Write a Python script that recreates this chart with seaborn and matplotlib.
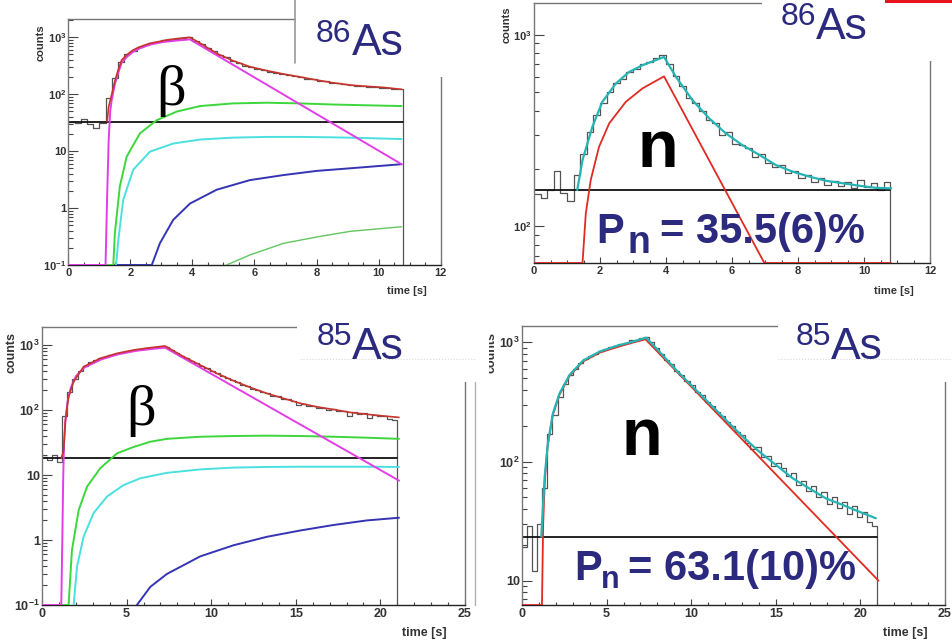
import numpy as np
import seaborn as sns
import matplotlib.pyplot as plt
from matplotlib.patches import Rectangle
from matplotlib.lines import Line2D
from matplotlib.ticker import LogLocator, MultipleLocator, FuncFormatter, NullFormatter

# ---------------- 86As, beta activity (top left) ----------------
as86b_bin = 0.2
as86b_hist = [33, 31, 37, 30, 26, 31,
              85,
              195, 370, 505, 585, 670, 735, 800, 825, 885, 895, 940, 955, 1010,
              870, 770, 640, 565, 490, 445, 390, 360, 318, 305, 280, 268, 248, 240,
              226, 220, 206, 200, 188, 184, 173, 170, 160, 158, 149, 147, 139, 140,
              133, 135, 129, 130, 124, 126]
as86b_bkg = 33
as86b_tot_t = [1.25, 1.3, 1.4, 1.5, 1.6, 1.72, 1.9, 2.09, 2.3, 2.63, 3.0, 3.17, 3.5, 3.92,
               4.3, 4.78, 5.3, 5.85, 6.4, 6.93, 7.5, 8.0, 8.5, 9.08, 9.6, 10.15, 10.74]
as86b_tot_v = [33, 60, 100, 170, 260, 400, 500, 600, 680, 785, 860, 900, 950, 1000,
               760, 523, 390, 305, 260, 227, 200, 178, 160, 145, 138, 132, 122]
as86b_par_t = [0, 1.2, 1.25, 1.3, 1.35, 1.4, 1.5, 1.6, 1.72, 1.9, 2.09, 2.3, 2.63, 3.0, 3.5, 3.92, 10.74]
as86b_par_v = [0.1, 0.1, 1.5, 15, 50, 80, 150, 230, 360, 460, 560, 640, 745, 820, 880, 920, 5.9]
as86b_d1_t = [0, 1.45, 1.5, 1.66, 1.88, 2.31, 2.85, 3.49, 4.24, 5.3, 6.4, 7.5, 8.54, 9.6, 10.74]
as86b_d1_v = [0.1, 0.1, 0.36, 2.4, 8, 20.6, 35, 49.5, 62, 69, 71, 69, 66, 64, 62]
as86b_d2_t = [1.54, 1.61, 1.77, 2.09, 2.63, 3.38, 4.24, 5.3, 6.4, 7.5, 8.54, 9.6, 10.74]
as86b_d2_v = [0.1, 0.27, 1.4, 4.7, 9.8, 13.6, 16, 17.3, 17.8, 17.8, 17.5, 17, 16.3]
as86b_d3_t = [0, 2.69, 2.95, 3.38, 3.92, 4.78, 5.85, 6.93, 8.0, 9.08, 10.74]
as86b_d3_v = [0.1, 0.1, 0.24, 0.62, 1.2, 2.1, 3.1, 3.8, 4.5, 5.0, 5.9]
as86b_d4_t = [5.1, 5.85, 6.93, 8.0, 9.08, 10.74]
as86b_d4_v = [0.1, 0.15, 0.24, 0.31, 0.39, 0.47]

# ---------------- 86As, neutron activity (top right) ----------------
as86n_bin = 0.2
as86n_hist = [148, 140, 155, 195, 150, 135,
              185,
              240, 310, 380, 440, 500, 560, 590, 640, 660, 700, 720, 760, 780,
              700, 610, 540, 470, 440, 400, 360, 345, 300, 310, 270, 265, 255, 230,
              240, 215, 205, 210, 190, 195, 180, 185, 170, 178, 165, 172, 162, 170,
              158, 175, 160, 168, 155, 170]
as86n_bkg = 155
as86n_fit_t = [1.31, 1.47, 1.77, 2.07, 2.48, 2.88, 3.29, 3.69, 3.94, 4.3, 4.8, 5.31, 5.81,
               6.32, 6.83, 7.33, 7.84, 8.34, 8.85, 9.35, 9.86, 10.36, 10.82]
as86n_fit_v = [155, 222, 331, 446, 556, 639, 693, 736, 765, 603, 456, 366, 306,
               265, 236, 209, 193, 182, 173, 168, 163, 159, 158]
as86n_n_t = [0, 1.47, 1.57, 1.72, 1.97, 2.28, 2.78, 3.29, 3.94, 6.98, 10.82]
as86n_n_v = [64.5, 64.5, 117, 175, 260, 345, 446, 525, 606, 64.5, 64.5]

# ---------------- 85As, beta activity (bottom left) ----------------
as85b_bin = 0.3
as85b_hist = [19, 17, 20, 16,
              80,
              190, 300, 400, 470, 545, 585, 625, 655, 700, 730, 765, 785, 820, 845,
              865, 895, 905, 935, 950,
              940,
              850, 765, 688, 632, 572, 528, 476, 442, 398, 368, 332, 313, 286, 270,
              246, 236, 213, 206, 187, 181, 166, 162, 150, 148, 136, 118, 124, 117,
              115, 106, 109, 101, 104, 96, 97, 82, 92, 86, 89, 76, 85, 80, 82, 74, 70]
as85b_bkg = 18
as85b_tot_t = [1.14, 1.28, 1.38, 1.57, 1.87, 2.46, 3.44, 4.43, 5.41, 6.4, 7.28, 8.37, 9.35,
               10.33, 11.32, 12.3, 13.29, 14.27, 15.26, 16.24, 17.22, 18.2, 19.19, 20.18, 21.1]
as85b_tot_v = [18, 24, 70, 160, 272, 464, 623, 744, 838, 910, 965, 662, 492,
               366, 282, 223, 180, 151, 127, 112, 102, 92, 86, 81, 77]
as85b_par_t = [0, 1.14, 1.2, 1.25, 1.3, 1.38, 1.5, 1.7, 2.0, 2.5, 3.5, 4.5, 5.5, 6.5, 7.28, 21.1]
as85b_par_v = [0.1, 0.1, 1, 8, 30, 65, 130, 220, 330, 450, 600, 720, 810, 870, 910, 8.2]
as85b_d1_t = [0, 1.57, 1.77, 2.17, 2.66, 3.44, 4.43, 5.41, 6.4, 7.38, 9.35, 11.32, 13.29,
              15.26, 17.22, 19.19, 21.1]
as85b_d1_v = [0.1, 0.1, 0.7, 2.9, 6.6, 12.7, 21.5, 27, 32.5, 36, 38.8, 39.8, 40.3,
              39.8, 38.8, 37.5, 36]
as85b_d2_t = [1.87, 2.07, 2.46, 3.05, 3.84, 4.82, 5.81, 7.38, 9.35, 11.32, 13.29, 15.26, 17.22, 19.19, 21.1]
as85b_d2_v = [0.1, 0.39, 1.13, 2.6, 4.66, 7.0, 8.9, 10.8, 12.2, 13.0, 13.3, 13.4, 13.4, 13.4, 13.3]
as85b_d3_t = [5.61, 6.4, 7.38, 9.35, 11.32, 13.29, 15.26, 17.22, 19.19, 21.1]
as85b_d3_v = [0.1, 0.19, 0.3, 0.56, 0.83, 1.12, 1.4, 1.7, 2.0, 2.2]

# ---------------- 85As, neutron activity (bottom right) ----------------
as85n_bin = 0.3
as85n_hist = [19, 29, 12, 30,
              60,
              170, 245, 350, 450, 530, 600, 665, 720, 770, 805, 845, 875, 905, 930,
              960, 990, 1050, 1040, 1080,
              1110,
              1000, 890, 800, 715, 655, 580, 530, 475, 435, 385, 358, 318, 292, 262,
              243, 215, 200, 176, 168, 142, 128, 133, 110, 112, 92, 98, 88, 76,
              80, 64, 68, 57, 62, 50, 55, 44, 50, 41, 46, 36, 42, 34, 38, 31, 29]
as85n_bkg = 23.4
as85n_fit_t = [1.14, 1.34, 1.53, 1.83, 2.22, 2.81, 3.6, 4.58, 5.57, 6.55, 7.34, 8.12, 9.11,
               10.09, 11.07, 12.05, 13.04, 14.02, 15.01, 15.99, 16.97, 17.96, 18.94, 19.93, 20.91]
as85n_fit_v = [23.4, 74.8, 142, 254, 373, 532, 701, 835, 932, 1013, 1094, 835, 586,
               424, 308, 223, 162, 121, 93.6, 72.4, 59.6, 49.0, 43.3, 37.9, 33.4]
as85n_n_t = [0, 1.18, 1.25, 1.35, 1.5, 1.8, 2.2, 2.8, 3.6, 4.6, 5.6, 6.5, 7.3, 21.07]
as85n_n_v = [6.25, 6.25, 30, 70, 130, 240, 360, 520, 690, 820, 910, 990, 1060, 10]

# ---------------- style ----------------
sns.set_theme(style="ticks")
plt.rcParams['font.family'] = ['Liberation Sans', 'DejaVu Sans']
plt.rcParams['font.weight'] = 'bold'
plt.rcParams['mathtext.fontset'] = 'custom'
plt.rcParams['mathtext.rm'] = 'Liberation Sans'
plt.rcParams['mathtext.bf'] = 'Liberation Sans:bold'
plt.rcParams['mathtext.default'] = 'bf'

NAVY = '#2b2a7e'
HIST = '#555555'
W, H = 953, 640

fig = plt.figure(figsize=(W / 100, H / 100), dpi=100)
fig.patch.set_facecolor('white')


def px_rect(l, t, r, b):
    return [l / W, 1 - b / H, (r - l) / W, (b - t) / H]


def ftext(x, y, s, **kw):
    return fig.text(x / W, 1 - y / H, s, zorder=12, **kw)


def fline(x1, y1, x2, y2, **kw):
    fig.add_artist(Line2D([x1 / W, x2 / W], [1 - y1 / H, 1 - y2 / H],
                          transform=fig.transFigure, zorder=11, **kw))


def white_box(l, t, r, b, color='white', z=10):
    fig.add_artist(Rectangle((l / W, 1 - b / H), (r - l) / W, (b - t) / H,
                             transform=fig.transFigure, facecolor=color,
                             edgecolor='none', zorder=z))


def root_log(v, pos):
    e = int(round(np.log10(v)))
    if e == 0:
        return '1'
    if e == 1:
        return '10'
    return r'$10^{%d}$' % e


def panel(rect, hist, bin_w, bkg, curves, xmax, xmaj, xmin, ylim, lsize):
    ax = fig.add_axes(rect)
    edges = bin_w * np.arange(len(hist) + 1)
    hx = np.append(edges, edges[-1])
    hy = np.append(np.append(hist, hist[-1]), 0)
    sns.lineplot(x=hx, y=hy, ax=ax, color=HIST, lw=0.9, estimator=None, sort=False,
                 drawstyle='steps-post')
    sns.lineplot(x=[0, edges[-1]], y=[bkg, bkg], ax=ax, color='#111111', lw=1.3,
                 estimator=None, sort=False)
    for t, v, c, lw in curves:
        sns.lineplot(x=t, y=v, ax=ax, color=c, lw=lw, estimator=None, sort=False, zorder=3)
    ax.set_yscale('log', nonpositive='clip')
    ax.set_xlim(0, xmax)
    ax.set_ylim(*ylim)
    ax.set_xlabel('')
    ax.set_ylabel('')
    ax.xaxis.set_major_locator(MultipleLocator(xmaj))
    ax.xaxis.set_minor_locator(MultipleLocator(xmin))
    ax.yaxis.set_major_locator(LogLocator(base=10, numticks=12))
    ax.yaxis.set_minor_locator(LogLocator(base=10, subs=np.arange(2, 10), numticks=12))
    ax.yaxis.set_major_formatter(FuncFormatter(root_log))
    ax.yaxis.set_minor_formatter(NullFormatter())
    ax.tick_params(axis='both', which='both', direction='in', colors='#444444',
                   labelcolor='#333333', labelsize=lsize, top=False, right=False)
    ax.tick_params(axis='x', which='major', length=4.5, width=0.8, pad=2)
    ax.tick_params(axis='x', which='minor', length=2.3, width=0.8)
    ax.tick_params(axis='y', which='major', length=7, width=0.8, pad=1.5)
    ax.tick_params(axis='y', which='minor', length=3.5, width=0.8)
    for s in ['left', 'top', 'right']:
        ax.spines[s].set_color('#777777')
        ax.spines[s].set_linewidth(1.0)
    ax.spines['bottom'].set_color('#222222')
    ax.spines['bottom'].set_linewidth(1.0)
    ax.set_facecolor('white')
    return ax


GREEN = '#3dd63d'
CYAN = '#4ae0e0'
BLUE = '#3434b4'
MAG = '#e23ee6'
RED = '#e02a22'
TEAL = '#26b4b4'

panel(px_rect(68.3, 19, 440.7, 265), as86b_hist, as86b_bin, as86b_bkg,
      [(as86b_d4_t, as86b_d4_v, '#62c662', 1.0),
       (as86b_d3_t, as86b_d3_v, BLUE, 1.4),
       (as86b_d2_t, as86b_d2_v, CYAN, 1.4),
       (as86b_d1_t, as86b_d1_v, GREEN, 1.4),
       (as86b_par_t, as86b_par_v, MAG, 1.4),
       (as86b_tot_t, as86b_tot_v, '#c8342c', 1.2)],
      12, 2, 0.5, (0.1, 2100), 8)

panel(px_rect(534, 3, 930, 263), as86n_hist, as86n_bin, as86n_bkg,
      [(as86n_n_t, as86n_n_v, RED, 1.3),
       (as86n_fit_t, as86n_fit_v, TEAL, 1.6)],
      12, 2, 0.5, (64.5, 1462), 8)

panel(px_rect(42, 327, 465, 605), as85b_hist, as85b_bin, as85b_bkg,
      [(as85b_d3_t, as85b_d3_v, BLUE, 1.4),
       (as85b_d2_t, as85b_d2_v, CYAN, 1.4),
       (as85b_d1_t, as85b_d1_v, GREEN, 1.4),
       (as85b_par_t, as85b_par_v, MAG, 1.4),
       (as85b_tot_t, as85b_tot_v, '#c8342c', 1.2)],
      25, 5, 1, (0.1, 1893), 9)

panel(px_rect(522, 326, 945, 605), as85n_hist, as85n_bin, as85n_bkg,
      [(as85n_n_t, as85n_n_v, RED, 1.3),
       (as85n_fit_t, as85n_fit_v, TEAL, 1.6)],
      25, 5, 1, (6.25, 1371), 9)

# slide overlays (label boxes hiding part of the frames)
white_box(296, 0, 476, 70)
white_box(425, 0, 476, 77)
fline(295, 0, 295, 63, color='#9a9a9a', lw=1.2)
white_box(762, 0, 953, 58)
white_box(900, 0, 953, 61)
white_box(885, 0, 953, 3, color='#e8141e')
white_box(297, 312, 476, 382)
fline(300, 359, 476, 359, color='#d8d8d8', lw=0.8, ls=':')
fline(475, 382, 475, 605, color='#b0b0b0', lw=1.0)
white_box(778, 312, 953, 382)
fline(778, 359, 953, 359, color='#d8d8d8', lw=0.8, ls=':')

# axis titles (ROOT style)
for x, y in [(427, 294), (914, 294)]:
    ftext(x, y, 'time [s]', ha='right', va='baseline', fontsize=8, color='#333333')
for x, y in [(447, 636), (928, 636)]:
    ftext(x, y, 'time [s]', ha='right', va='baseline', fontsize=9, color='#333333')
for x, y, fs in [(41, 24, 8), (507, 6, 8), (12, 332, 9), (492, 332, 9)]:
    ftext(x, y, 'counts', ha='center', va='top', rotation=90, fontsize=fs, color='#333333')
white_box(477, 322, 489, 390, z=13)

# isotope labels
for x86, xas, yb86, ybas, iso in [(316, 352, 42, 55, '86'), (781, 816, 25, 39, '86'),
                                  (317, 352, 345, 359, '85'), (796, 831, 345, 359, '85')]:
    ftext(x86, yb86, iso, ha='left', va='baseline', fontsize=23, color=NAVY, fontweight='normal')
    ftext(xas, ybas, 'As', ha='left', va='baseline', fontsize=32, color=NAVY, fontweight='normal')

# decay-channel labels
for x, y in [(156, 105), (126, 425)]:
    ftext(x, y, '\u03b2', ha='left', va='baseline', fontsize=42, color='black',
          fontweight='normal', family=['Liberation Serif', 'DejaVu Serif'])
for x, y in [(638, 167), (622, 455)]:
    ftext(x, y, 'n', ha='left', va='baseline', fontsize=48, color='black', fontweight='bold')

# P_n results
for xp, xn, xe, yb, ybn, nfs, txt in [(596, 628, 660, 243, 253, 27, '= 35.5(6)%'),
                                      (574, 601, 628, 580, 588, 22, '= 63.1(10)%')]:
    ftext(xp, yb, 'P', ha='left', va='baseline', fontsize=30, color=NAVY, fontweight='bold')
    ftext(xn, ybn, 'n', ha='left', va='baseline', fontsize=nfs, color=NAVY, fontweight='bold')
    ftext(xe, yb, txt, ha='left', va='baseline', fontsize=30, color=NAVY, fontweight='bold')

fig.savefig('out.png', dpi=100, facecolor='white')
